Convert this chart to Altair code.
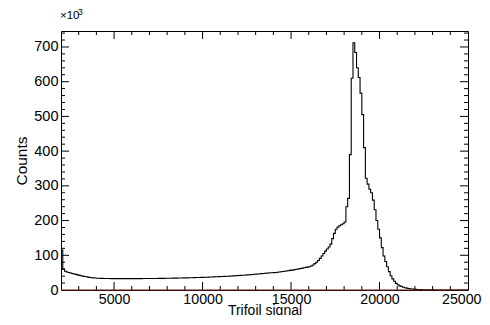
import altair as alt
import pandas as pd

# ---- data (counts in units of 10^3, bins of width 100 starting at 2000) ----
bin_start = 2000
bin_width = 100
counts_k = [
    # 2000-2900
    115, 60, 54, 52, 50.5, 49, 47.5, 46, 45, 43.5,
    # 3000-3900
    42, 41, 40, 39, 38, 37, 36, 35.5, 35, 34.5,
    # 4000-4900
    34, 33.8, 33.6, 33.4, 33.2, 33.1, 33, 33, 32.9, 32.9,
    # 5000-5900
    32.8, 32.8, 32.8, 32.7, 32.7, 32.7, 32.7, 32.7, 32.7, 32.8,
    # 6000-6900
    32.8, 32.8, 32.8, 32.9, 32.9, 32.9, 33, 33, 33, 33.1,
    # 7000-7900
    33.1, 33.2, 33.2, 33.3, 33.3, 33.4, 33.5, 33.5, 33.6, 33.7,
    # 8000-8900
    33.8, 33.9, 34, 34.1, 34.2, 34.3, 34.4, 34.5, 34.6, 34.8,
    # 9000-9900
    34.9, 35, 35.2, 35.3, 35.5, 35.6, 35.8, 36, 36.1, 36.3,
    # 10000-10900
    36.5, 36.7, 36.9, 37.1, 37.3, 37.5, 37.7, 38, 38.2, 38.5,
    # 11000-11900
    38.7, 39, 39.2, 39.5, 39.8, 40.1, 40.4, 40.7, 41, 41.3,
    # 12000-12900
    41.7, 42, 42.4, 42.7, 43.1, 43.5, 43.9, 44.3, 44.7, 45.2,
    # 13000-13900
    45.6, 46.1, 46.6, 47.1, 47.6, 48.1, 48.6, 49, 49.5, 49.8,
    # 14000-14900
    50, 50.6, 51.2, 51.9, 52.6, 53.3, 54, 54.8, 55.6, 56.4,
    # 15000-15900
    57.2, 58, 58.9, 59.8, 60.8, 61.8, 62.9, 64, 65.2, 66,
    # 16000-16900
    67, 69, 72, 76, 80, 85, 91, 98, 105, 112,
    # 17000-17900
    118, 124, 132, 148, 163, 175, 181, 185, 188, 191,
    # 18000-18900
    196, 240, 264, 390, 610, 712, 684, 640, 612, 567,
    # 19000-19900
    505, 410, 322, 305, 290, 280, 259, 231, 200, 175,
    # 20000-20900
    150, 122, 98, 82, 67, 53, 41, 32, 25, 19,
    # 21000-21900
    15, 12, 10, 8, 6.5, 5.5, 4.5, 3.6, 3, 2.4,
    # 22000-22900
    2, 1.6, 1.3, 1.1, 0.9, 0.7, 0.6, 0.5, 0.4, 0.3,
    # 23000-23900
    0.25, 0.2, 0.15, 0.12, 0.1, 0.08, 0.06, 0.05, 0.04, 0.03,
    # 24000-24900
    0.02, 0.02, 0.01, 0.01, 0.01, 0.01, 0, 0, 0, 0,
]

x_labels = [5000, 10000, 15000, 20000, 25000]
y_labels = [0, 100, 200, 300, 400, 500, 600, 700]
x_major_ticks = [5000, 10000, 15000, 20000]
x_minor_ticks = [3000, 4000, 6000, 7000, 8000, 9000, 11000, 12000, 13000, 14000,
                 16000, 17000, 18000, 19000, 21000, 22000, 23000, 24000]
y_major_ticks = [100, 200, 300, 400, 500, 600, 700]
y_minor_ticks = [20, 40, 60, 80, 120, 140, 160, 180, 220, 240, 260, 280,
                 320, 340, 360, 380, 420, 440, 460, 480, 520, 540, 560, 580,
                 620, 640, 660, 680, 720, 740]

X_DOMAIN = [2000, 25000]
Y_DOMAIN = [0, 746]
W, H = 407, 259
FONT = "Liberation Sans"

edges = [bin_start + bin_width * i for i in range(len(counts_k))] + [bin_start + bin_width * len(counts_k)]
vals = counts_k + [counts_k[-1]]
hist_df = pd.DataFrame({"signal": edges, "counts": vals})

xscale = alt.Scale(domain=X_DOMAIN, nice=False, zero=False)
yscale = alt.Scale(domain=Y_DOMAIN, nice=False, zero=False)

xaxis = alt.Axis(
    values=x_labels, format="d", ticks=False, tickSize=0, domain=False, grid=False,
    labelFont=FONT, labelFontSize=14.2, labelColor="black", labelPadding=2,
    labelFlush=True, labelFlushOffset=13, labelOverlap=False,
    title="Trifoil signal", titleFont=FONT, titleFontSize=14,
    titleFontWeight="normal", titleColor="black",
    titleX=W / 2, titleY=24, titleBaseline="alphabetic", titleAlign="center")
yaxis = alt.Axis(
    values=y_labels, format="d", ticks=False, tickSize=0, domain=False, grid=False,
    labelFont=FONT, labelFontSize=14.5, labelColor="black", labelPadding=3,
    labelFlush=False, labelOverlap=False,
    title="Counts", titleFont=FONT, titleFontSize=15.5,
    titleFontWeight="normal", titleColor="black",
    titleX=-35, titleY=H / 2, titleBaseline="alphabetic", titleAlign="center",
    titleAngle=270)

hist = alt.Chart(hist_df).mark_line(
    interpolate="step-after", color="black", strokeWidth=1.1, clip=True
).encode(
    x=alt.X("signal:Q", scale=xscale, axis=xaxis, title="Trifoil signal"),
    y=alt.Y("counts:Q", scale=yscale, axis=yaxis, title="Counts"),
)

def xticks(vals_list, top, length):
    df = pd.DataFrame({"signal": vals_list})
    y0 = 0 if top else H
    y1 = length if top else H - length
    return alt.Chart(df).mark_rule(color="black", strokeWidth=1).encode(
        x=alt.X("signal:Q", scale=xscale, axis=xaxis, title="Trifoil signal"),
        y=alt.value(y0), y2=alt.value(y1))

def yticks(vals_list, right, length):
    df = pd.DataFrame({"counts": vals_list})
    x0 = W if right else 0
    x1 = W - length if right else length
    return alt.Chart(df).mark_rule(color="black", strokeWidth=1).encode(
        y=alt.Y("counts:Q", scale=yscale, axis=yaxis, title="Counts"),
        x=alt.value(x0), x2=alt.value(x1))

base_line = alt.Chart(pd.DataFrame({"counts": [0]})).mark_rule(
    color="#6e1c1c", strokeWidth=1.2).encode(
    y=alt.Y("counts:Q", scale=yscale, axis=yaxis, title="Counts"))

mult_base = alt.Chart(pd.DataFrame({"t": ["×10"]})).mark_text(
    align="left", baseline="alphabetic", font=FONT, fontSize=11.5, color="black"
).encode(text="t:N", x=alt.value(-1), y=alt.value(-12.5))
mult_exp = alt.Chart(pd.DataFrame({"t": ["3"]})).mark_text(
    align="left", baseline="alphabetic", font=FONT, fontSize=8.5, color="black"
).encode(text="t:N", x=alt.value(17), y=alt.value(-16.5))

chart = alt.layer(
    hist,
    xticks(x_major_ticks, False, 8), xticks(x_minor_ticks, False, 4),
    xticks(x_major_ticks, True, 8), xticks(x_minor_ticks, True, 4),
    yticks(y_major_ticks, False, 8), yticks(y_minor_ticks, False, 4),
    yticks(y_major_ticks, True, 8), yticks(y_minor_ticks, True, 4),
    base_line, mult_base, mult_exp,
).properties(
    width=W, height=H,
    autosize=alt.AutoSizeParams(type="none"),
    padding={"left": 53, "top": 23, "right": 14, "bottom": 25},
    background="white",
).configure_view(stroke="black", strokeWidth=1)

chart.save("out.html", embed_options={"renderer": "svg", "actions": False})
